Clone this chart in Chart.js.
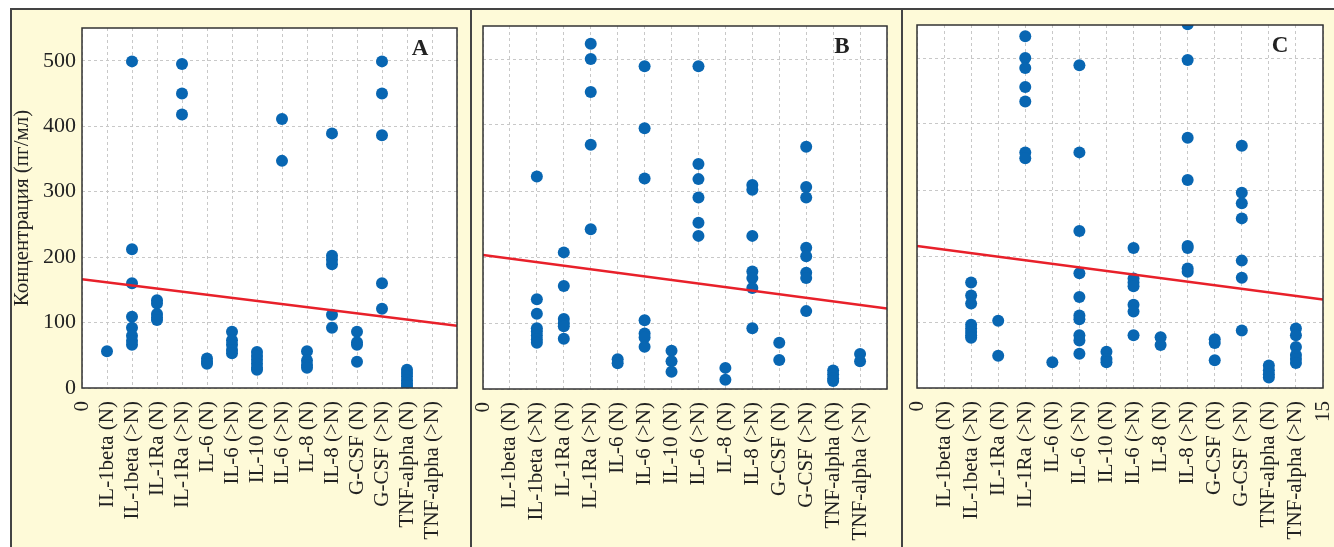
<!DOCTYPE html>
<html>
<head>
<meta charset="utf-8">
<script src="https://cdn.jsdelivr.net/npm/chart.js@4"></script>
<style>
    body { margin: 0; width: 1334px; height: 547px; background: #fff; position: relative; overflow: hidden; }
    #frame { position: absolute; left: 10px; top: 8px; width: 1324px; height: 539px; background: #fefad8;
             border-top: 2px solid #444; border-left: 2px solid #444; box-sizing: border-box; }
    .divider { position: absolute; top: 8px; bottom: 0; width: 2px; background: #444; }
    canvas { position: absolute; }
</style>
</head>
<body>
<div id="frame"></div>
<div class="divider" style="left:470px"></div>
<div class="divider" style="left:901px"></div>
<canvas id="chartA" width="458" height="536" style="left:12px; top:11px"></canvas>
<canvas id="chartB" width="428" height="536" style="left:473px; top:11px"></canvas>
<canvas id="chartC" width="430" height="536" style="left:904px; top:11px"></canvas>

<script>
// ========== DATA ==========
const categories = [
    'IL-1beta (N)', 'IL-1beta (>N)', 'IL-1Ra (N)', 'IL-1Ra (>N)', 'IL-6 (N)', 'IL-6 (>N)', 'IL-10 (N)',
    'IL-6 (>N)', 'IL-8 (N)', 'IL-8 (>N)', 'G-CSF (N)', 'G-CSF (>N)', 'TNF-alpha (N)', 'TNF-alpha (>N)'
];
const yTicks = [0, 100, 200, 300, 400, 500];
const yTitle = 'Концентрация (пг/мл)';

// one list per category, index 0 -> x = 1
const panelA = [
    [56],
    [499, 212, 160, 109, 92, 80, 72, 66],
    [134, 129, 113, 108, 104],
    [495, 450, 418],
    [45, 40, 37],
    [86, 73, 66, 58, 53],
    [55, 49, 43, 37, 31, 28],
    [411, 347],
    [56, 42, 35, 31],
    [389, 202, 196, 189, 112, 92],
    [86, 70, 66, 40],
    [499, 450, 386, 160, 121],
    [28, 23, 18, 12, 7, 3],
    []
];
const panelB = [
    [],
    [322, 136, 114, 92, 87, 81, 75, 70],
    [207, 156, 106, 100, 95, 76],
    [523, 500, 450, 370, 242],
    [45, 39],
    [489, 395, 319, 104, 84, 78, 64],
    [58, 42, 26],
    [489, 341, 318, 290, 252, 232],
    [32, 14],
    [309, 302, 232, 178, 168, 153, 92],
    [70, 44],
    [367, 306, 290, 214, 201, 176, 168, 118],
    [28, 22, 16, 12],
    [53, 42]
];
const panelC = [
    [],
    [160, 140, 128, 96, 90, 85, 80, 76],
    [102, 49],
    [533, 500, 485, 456, 434, 357, 348],
    [39],
    [489, 357, 238, 174, 138, 110, 104, 80, 72, 52],
    [55, 44, 39],
    [212, 166, 160, 154, 126, 116, 80],
    [77, 65],
    [551, 497, 379, 315, 215, 212, 181, 176],
    [74, 68, 42],
    [367, 296, 280, 257, 193, 167, 87],
    [34, 27, 21, 16],
    [90, 80, 62, 50, 44, 38]
];

// regression line: value at x = 0 and at x = 15
const trendA = [166, 95];
const trendB = [203, 122];
const trendC = [215, 134];

Chart.defaults.font.family = "'Liberation Serif', 'Times New Roman', serif";
Chart.defaults.color = '#222';

// ========== PLUGINS ==========
const framePlugin = {
    id: 'plotFrame',
    afterDraw(chart) {
        const a = chart.chartArea;
        const ctx = chart.ctx;
        ctx.save();
        ctx.strokeStyle = '#333';
        ctx.lineWidth = 1.5;
        ctx.strokeRect(a.left, a.top, a.right - a.left, a.bottom - a.top);
        ctx.restore();
    }
};

const letterPlugin = {
    id: 'panelLetter',
    afterDraw(chart, args, opts) {
        const a = chart.chartArea;
        const ctx = chart.ctx;
        ctx.save();
        ctx.font = "bold 23px 'Liberation Serif', serif";
        ctx.fillStyle = '#222';
        ctx.textAlign = 'center';
        ctx.textBaseline = 'alphabetic';
        ctx.fillText(opts.text, a.right - opts.offset, a.top + 27);
        ctx.restore();
    }
};

const whiteArea = {
    id: 'whiteArea',
    beforeDraw(chart) {
        const a = chart.chartArea;
        chart.ctx.save();
        chart.ctx.fillStyle = '#fff';
        chart.ctx.fillRect(a.left, a.top, a.right - a.left, a.bottom - a.top);
        chart.ctx.restore();
    }
};

// ========== BUILD CHART ==========
function makeChart(id, cfg) {
    const ctx = document.getElementById(id).getContext('2d');
    const points = [];
    cfg.values.forEach((vals, i) => vals.forEach(v => points.push({ x: i + 1, y: v })));

    const gridStyle = { color: '#c8c8c8', lineWidth: 1, drawTicks: false };

    return new Chart(ctx, {
        type: 'scatter',
        data: {
            datasets: [
                {
                    type: 'line',
                    data: [{ x: 0, y: cfg.trend[0] }, { x: 15, y: cfg.trend[1] }],
                    borderColor: '#e8202a',
                    borderWidth: 2.5,
                    pointRadius: 0,
                    fill: false
                },
                {
                    data: points,
                    backgroundColor: '#0866b2',
                    borderWidth: 0,
                    pointRadius: 6,
                    pointHoverRadius: 6,
                    clip: 0
                }
            ]
        },
        options: {
            responsive: false,
            animation: false,
            events: [],
            layout: { padding: { top: cfg.top, right: cfg.right, left: 0, bottom: 0 } },
            plugins: {
                legend: { display: false },
                tooltip: { enabled: false },
                panelLetter: { text: cfg.letter, offset: cfg.letterOffset }
            },
            scales: {
                x: {
                    type: 'linear',
                    min: 0,
                    max: 15,
                    afterFit: s => {
                        s.height = cfg.xHeight;
                        s.paddingLeft = 0;
                        s.paddingRight = 0;
                    },
                    grid: gridStyle,
                    border: { display: false, dash: [3, 3] },
                    ticks: {
                        stepSize: 1,
                        autoSkip: false,
                        minRotation: 90,
                        maxRotation: 90,
                        padding: 13,
                        font: { size: 21 },
                        callback: v => {
                            const n = Math.round(v);
                            if (n === 0) return '0';
                            if (n === 15) return cfg.showEnd ? '15' : '';
                            return categories[n - 1];
                        }
                    }
                },
                y: {
                    min: 0,
                    max: 550,
                    afterFit: s => {
                        s.width = cfg.yWidth;
                        s.paddingTop = 0;
                        s.paddingBottom = 0;
                    },
                    afterBuildTicks: s => { s.ticks = yTicks.map(v => ({ value: v })); },
                    grid: gridStyle,
                    border: { display: false, dash: [3, 3] },
                    title: {
                        display: cfg.showY,
                        text: yTitle,
                        font: { size: 21, lineHeight: 1 },
                        padding: { top: 0, bottom: 0 }
                    },
                    ticks: {
                        display: cfg.showY,
                        padding: 6,
                        font: { size: 22 }
                    }
                }
            }
        },
        plugins: [whiteArea, framePlugin, letterPlugin]
    });
}

makeChart('chartA', { values: panelA, trend: trendA, letter: 'A', letterOffset: 37,
    top: 17, right: 13, xHeight: 159, yWidth: 70, showY: true, showEnd: false });
makeChart('chartB', { values: panelB, trend: trendB, letter: 'B', letterOffset: 45,
    top: 15, right: 14, xHeight: 158, yWidth: 10, showY: false, showEnd: false });
makeChart('chartC', { values: panelC, trend: trendC, letter: 'C', letterOffset: 43,
    top: 14, right: 11, xHeight: 159, yWidth: 13, showY: false, showEnd: true });
</script>
</body>
</html>
